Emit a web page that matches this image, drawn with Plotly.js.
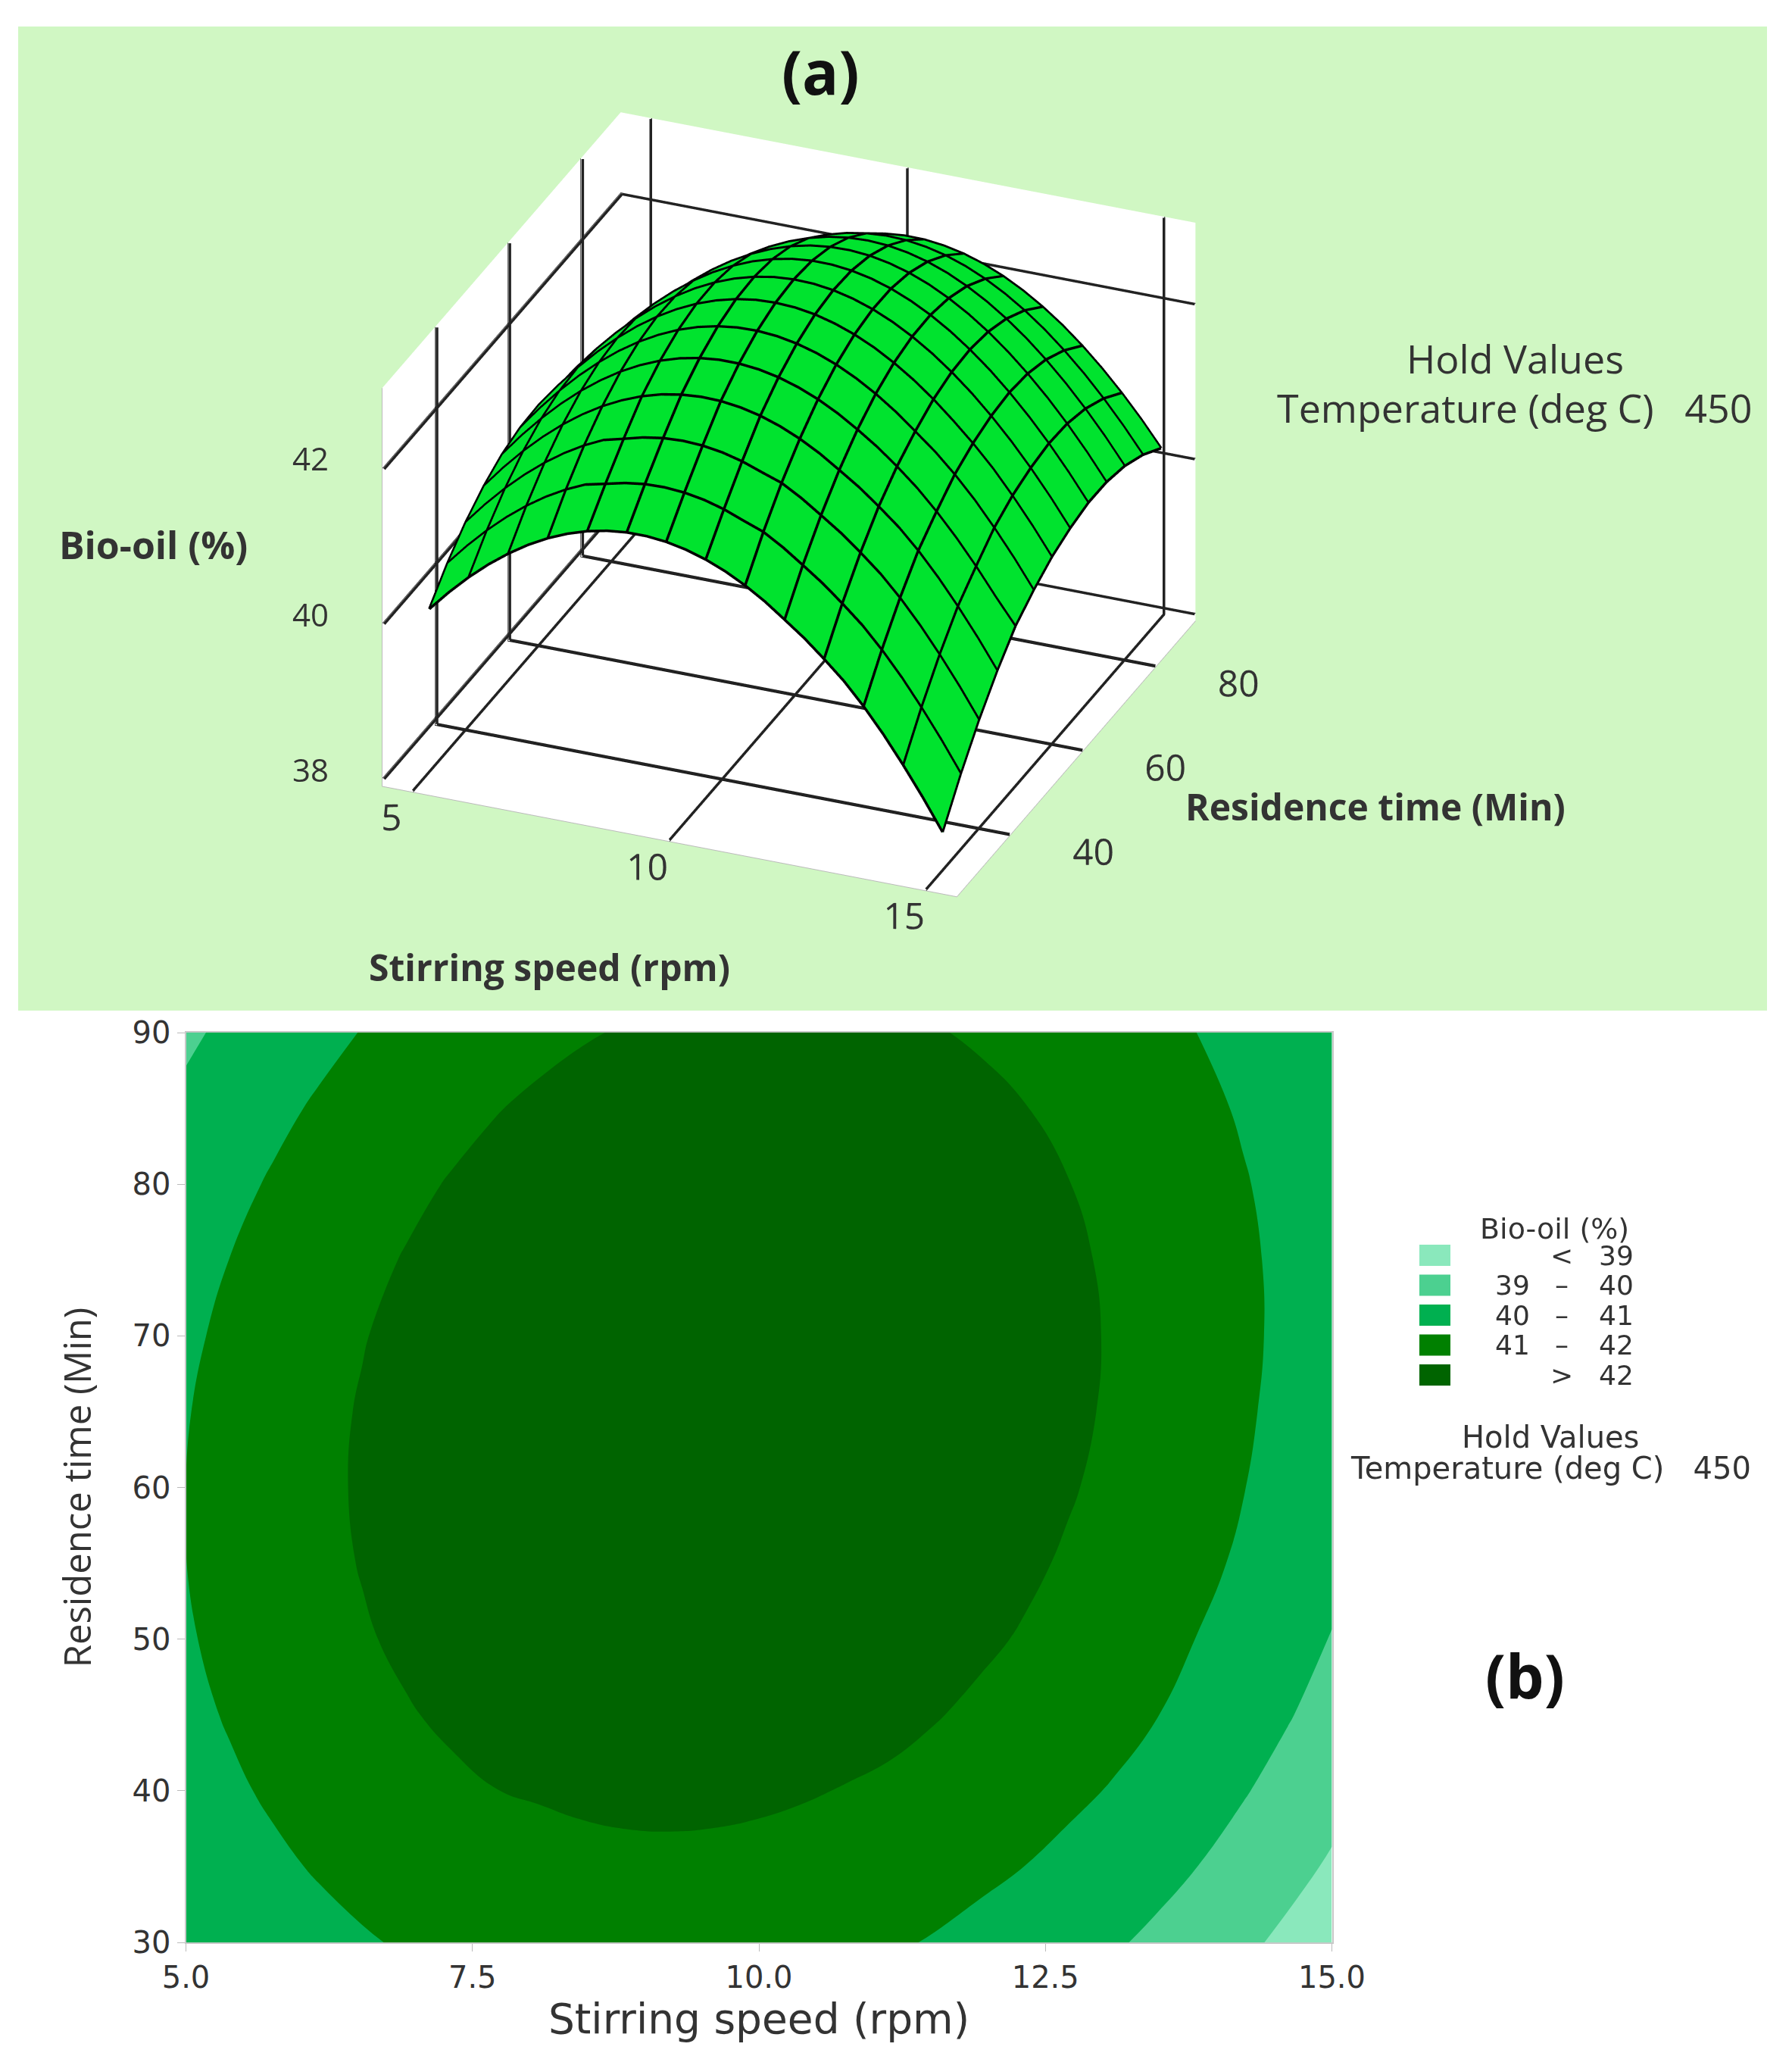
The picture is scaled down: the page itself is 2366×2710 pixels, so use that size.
<!DOCTYPE html>
<html><head><meta charset="utf-8">
<script src="https://cdn.plot.ly/plotly-3.0.1.min.js"></script>
<style>html,body{margin:0;padding:0;background:#fff}</style></head>
<body><div id="chart" style="width:2366px;height:2710px"></div>
<script>
const stirringSpeed = [5,5.385,5.769,6.154,6.538,6.923,7.308,7.692,8.077,8.462,8.846,9.231,9.615,10,10.385,10.769,11.154,11.538,11.923,12.308,12.692,13.077,13.462,13.846,14.231,14.615,15];
const residenceTime = [30,35,40,45,50,55,60,65,70,75,80,85,90];
const row30 = [40.011,40.278,40.519,40.734,40.921,41.083,41.218,41.325,41.407,41.461,41.489,41.490,41.465,41.413,41.335,41.230,41.098,40.940,40.754,40.563,40.344,40.110,39.832,39.520,39.174,38.804,38.405];
const row35 = [40.330,40.603,40.850,41.071,41.265,41.433,41.574,41.688,41.746,41.806,41.841,41.848,41.829,41.784,41.712,41.613,41.518,41.366,41.187,41.002,40.790,40.562,40.290,39.985,39.645,39.281,38.889];
const row40 = [40.588,40.868,41.122,41.349,41.549,41.723,41.871,41.991,42.055,42.122,42.163,42.177,42.164,42.125,42.059,41.967,41.878,41.732,41.559,41.381,41.175,40.953,40.688,40.389,40.056,39.698,39.312];
const row45 = [40.784,41.071,41.331,41.564,41.771,41.951,42.105,42.231,42.332,42.406,42.452,42.473,42.467,42.434,42.375,42.289,42.176,42.037,41.870,41.698,41.498,41.283,41.025,40.731,40.405,40.054,39.674];
const row50 = [40.921,41.214,41.480,41.720,41.933,42.119,42.280,42.412,42.519,42.599,42.652,42.679,42.679,42.653,42.600,42.520,42.414,42.281,42.121,41.945,41.742,41.518,41.258,40.969,40.649,40.304,39.975];
const row55 = [40.995,41.294,41.567,41.813,42.032,42.226,42.392,42.531,42.645,42.731,42.790,42.823,42.830,42.810,42.763,42.690,42.590,42.463,42.310,42.130,41.923,41.711,41.465,41.189,40.875,40.537,40.170];
const row60 = [41.010,41.315,41.594,41.847,42.072,42.272,42.445,42.590,42.710,42.802,42.868,42.908,42.920,42.907,42.867,42.799,42.706,42.586,42.438,42.265,42.065,41.838,41.594,41.325,41.017,40.685,40.325];
const row65 = [40.962,41.274,41.559,41.818,42.050,42.256,42.435,42.587,42.713,42.812,42.884,42.930,42.949,42.942,42.908,42.847,42.760,42.646,42.505,42.338,42.144,41.924,41.676,41.403,41.102,40.776,40.422];
const row70 = [40.854,41.173,41.464,41.730,41.968,42.180,42.366,42.524,42.656,42.762,42.840,42.892,42.918,42.917,42.889,42.835,42.754,42.646,42.512,42.351,42.163,41.950,41.708,41.441,41.147,40.827,40.480];
const row75 = [40.685,41.010,41.307,41.579,41.824,42.042,42.234,42.399,42.537,42.649,42.734,42.793,42.824,42.830,42.809,42.760,42.686,42.585,42.456,42.302,42.121,41.913,41.678,41.418,41.130,40.816,40.475];
const row80 = [40.455,40.786,41.090,41.368,41.619,41.845,42.042,42.214,42.359,42.477,42.568,42.633,42.671,42.683,42.668,42.626,42.558,42.463,42.341,42.193,42.018,41.817,41.588,41.334,41.052,40.745,40.411];
const row85 = [40.164,40.501,40.811,41.096,41.353,41.585,41.789,41.967,42.118,42.242,42.340,42.411,42.455,42.474,42.465,42.429,42.368,42.279,42.164,42.022,41.854,41.659,41.436,41.189,40.913,40.612,40.284];
const row90 = [39.870,40.156,40.472,40.763,41.027,41.265,41.475,41.659,41.817,41.948,42.051,42.129,42.180,42.205,42.203,42.173,42.118,42.036,41.927,41.791,41.629,41.441,41.225,40.983,40.714,40.420,40.098];
const bioOil = [row30,row35,row40,row45,row50,row55,row60,row65,row70,row75,row80,row85,row90];

const xTicks3d = [5,10,15], yTicks3d = [40,60,80], zTicks3d = [38,40,42];
const xRange3d = [4.4,15.6], yRange3d = [25.5,91], zRange3d = [37.9,43.04];

const legendColors = ['#8AE8BC','#4CD090','#00B050','#008000','#006400'];
const legendLow = ['','39','40','41',''];
const legendSep = ['<','–','–','–','>'];
const legendHigh = ['39','40','41','42','42'];
const surfaceColor = '#00E32E';
const panelColor = '#D0F7C3';
const textColor = '#333333';

const W = 2366, H = 2710;
const px = v => v / W, py = v => 1 - v / H;
function label(x, y, text, size, opts) {
  return Object.assign({xref:'paper', yref:'paper', x:px(x), y:py(y), text, showarrow:false,
    xanchor:'center', yanchor:'middle', font:{family:'Open Sans', size, color:textColor}}, opts||{});
}
const OS = 'Open Sans', DV = 'DejaVu Sans';
const dv = s => ({font:{family:DV,size:s,color:textColor}});
const ann = [
  label(1083, 94, '<b>(a)</b>', 80, {font:{family:OS,size:80,color:'#111'}}),
  label(2013, 2210, '<b>(b)</b>', 80, {font:{family:OS,size:80,color:'#111'}}),
  label(202, 719, '<b>Bio-oil (%)</b>', 50),
  label(726, 1277, '<b>Stirring speed (rpm)</b>', 48),
  label(1816, 1064, '<b>Residence time (Min)</b>', 48),
  label(2000, 473, 'Hold Values', 52),
  label(1999, 537, 'Temperature (deg C)\u00a0\u00a0\u00a0450', 52),
  label(2052, 1622, 'Bio-oil (%)', 38, dv(38)),
  label(2047, 1897, 'Hold Values', 40, dv(40)),
  label(2047, 1938, 'Temperature (deg C)\u00a0\u00a0\u00a0450', 40, dv(40))
];
// Labels of the vertical axis sit left of the box, clear of the floor labels
zTicks3d.forEach(z => ann.push(label(410, 605 + (42 - z) * 102.7, String(z), 42)));
const shapes = [{type:'rect', xref:'paper', yref:'paper', x0:px(24), x1:px(2333), y0:py(35), y1:py(1334),
  fillcolor:panelColor, line:{width:0}, layer:'below'}];
legendColors.forEach((c,i) => {
  const y = 1657 + i*39.5;
  shapes.push({type:'rect', xref:'paper', yref:'paper', x0:px(1874), x1:px(1915), y0:py(y-14), y1:py(y+14),
    fillcolor:c, line:{width:0}});
  if (legendLow[i]) ann.push(label(2022, y, legendLow[i], 36, Object.assign({xanchor:'right'}, dv(36))));
  ann.push(label(2062, y, legendSep[i], 36, dv(36)));
  ann.push(label(2159, y, legendHigh[i], 36, Object.assign({xanchor:'right'}, dv(36))));
});

const axis3d = (range, tickvals, ticklen, showticklabels) => ({
  range, tickvals, ticktext:tickvals.map(String), tickangle:0, title:{text:''}, showticklabels,
  showbackground:true, backgroundcolor:'#ffffff', showgrid:true, gridcolor:'#111111', gridwidth:2,
  zeroline:false, showline:true, linecolor:'#bbbbbb', linewidth:2, ticks:'outside', ticklen, tickcolor:'rgba(0,0,0,0)',
  tickfont:{family:OS,size:24,color:textColor}, showspikes:false
});

// Heavy mesh lines on the surface
const mx = [], my = [], mz = [], lift = 0.01;
const step = (a,b,c) => { mx.push(a); my.push(b); mz.push(c); };
for (let j = 0; j < stirringSpeed.length; j += 2) {
  residenceTime.forEach((t,i) => step(stirringSpeed[j], t, bioOil[i][j] + lift));
  step(null,null,null);
}
residenceTime.forEach((t,i) => {
  stirringSpeed.forEach((s,j) => step(s, t, bioOil[i][j] + lift));
  step(null,null,null);
});
// Heavy grid lines just inside the floor and the two rear walls, at the tick values
const wx = [], wy = [], wz = [];
const seg = (a,b) => { wx.push(a[0],b[0],null); wy.push(a[1],b[1],null); wz.push(a[2],b[2],null); };
const xLo = xRange3d[0]+0.04, xHi = xRange3d[1], yLo = yRange3d[0], yHi = yRange3d[1]-0.2, zLo = zRange3d[0]+0.02, zHi = zRange3d[1];
xTicks3d.forEach(x => { seg([x,yLo,zLo],[x,yHi,zLo]); seg([x,yHi,zLo],[x,yHi,zHi]); });
yTicks3d.forEach(y => { seg([xLo,y,zLo],[xHi,y,zLo]); seg([xLo,y,zLo],[xLo,y,zHi]); });
zTicks3d.forEach(z => { seg([xLo,yLo,z],[xLo,yHi,z]); seg([xLo,yHi,z],[xHi,yHi,z]); });

const traces = [
  {type:'surface', x:stirringSpeed, y:residenceTime, z:bioOil, showscale:false,
   colorscale:[[0,surfaceColor],[1,surfaceColor]], cmin:38, cmax:43,
   lighting:{ambient:1,diffuse:0,specular:0,roughness:1,fresnel:0},
   contours:{x:{show:false,highlight:false},y:{show:false,highlight:false},z:{show:false,highlight:false}}},
  {type:'scatter3d', mode:'lines', x:mx, y:my, z:mz, line:{color:'#000',width:7}, connectgaps:false, hoverinfo:'skip', showlegend:false},
  {type:'scatter3d', mode:'lines', x:wx, y:wy, z:wz, line:{color:'#222',width:7}, connectgaps:false, hoverinfo:'skip', showlegend:false},
  {type:'contour', x:stirringSpeed, y:residenceTime, z:bioOil, xaxis:'x', yaxis:'y', showscale:false,
   autocontour:false, contours:{start:39,end:42,size:1,coloring:'fill',showlines:false},
   line:{width:0,smoothing:1.3},
   colorscale:legendColors.map((c,i)=>[i/(legendColors.length-1),c]), hoverinfo:'z'}
];

const layout = {
  width:W, height:H, margin:{l:0,r:0,t:0,b:0}, paper_bgcolor:'#fff', plot_bgcolor:'#fff', showlegend:false,
  annotations:ann, shapes,
  scene:{domain:{x:[0.10,0.78],y:[0.534,0.974]}, bgcolor:'rgba(0,0,0,0)',
    aspectmode:'manual', aspectratio:{x:1.375,y:1.40,z:1.0},
    camera:{eye:{x:0.53,y:-1.30,z:0.75}, center:{x:0,y:0,z:0}, up:{x:0,y:0,z:1}, projection:{type:'orthographic'}},
    xaxis:axis3d(xRange3d,xTicks3d,100,true), yaxis:axis3d(yRange3d,yTicks3d,58,true), zaxis:axis3d(zRange3d,zTicks3d,10,false)},
  xaxis:{domain:[px(245.5),px(1758.5)], anchor:'y', range:[5,15], tickvals:[5,7.5,10,12.5,15], ticktext:['5.0','7.5','10.0','12.5','15.0'],
    ticks:'outside', ticklen:10, tickcolor:'#bbb', showgrid:false, zeroline:false, showline:true, linecolor:'#c8c8c8', linewidth:2, mirror:true,
    tickfont:{family:DV,size:40,color:textColor}, title:{text:'Stirring speed (rpm)', font:{family:DV,size:55,color:textColor}, standoff:8}},
  yaxis:{domain:[py(2564),py(1363)], anchor:'x', range:[30,90], dtick:10, tick0:30,
    ticks:'outside', ticklen:10, tickcolor:'#bbb', showgrid:false, zeroline:false, showline:true, linecolor:'#c8c8c8', linewidth:2, mirror:true,
    tickfont:{family:DV,size:40,color:textColor}, title:{text:'Residence time (Min)', font:{family:OS,size:49,color:textColor}, standoff:38}}
};
Plotly.newPlot('chart', traces, layout, {displayModeBar:false});
</script></body></html>
